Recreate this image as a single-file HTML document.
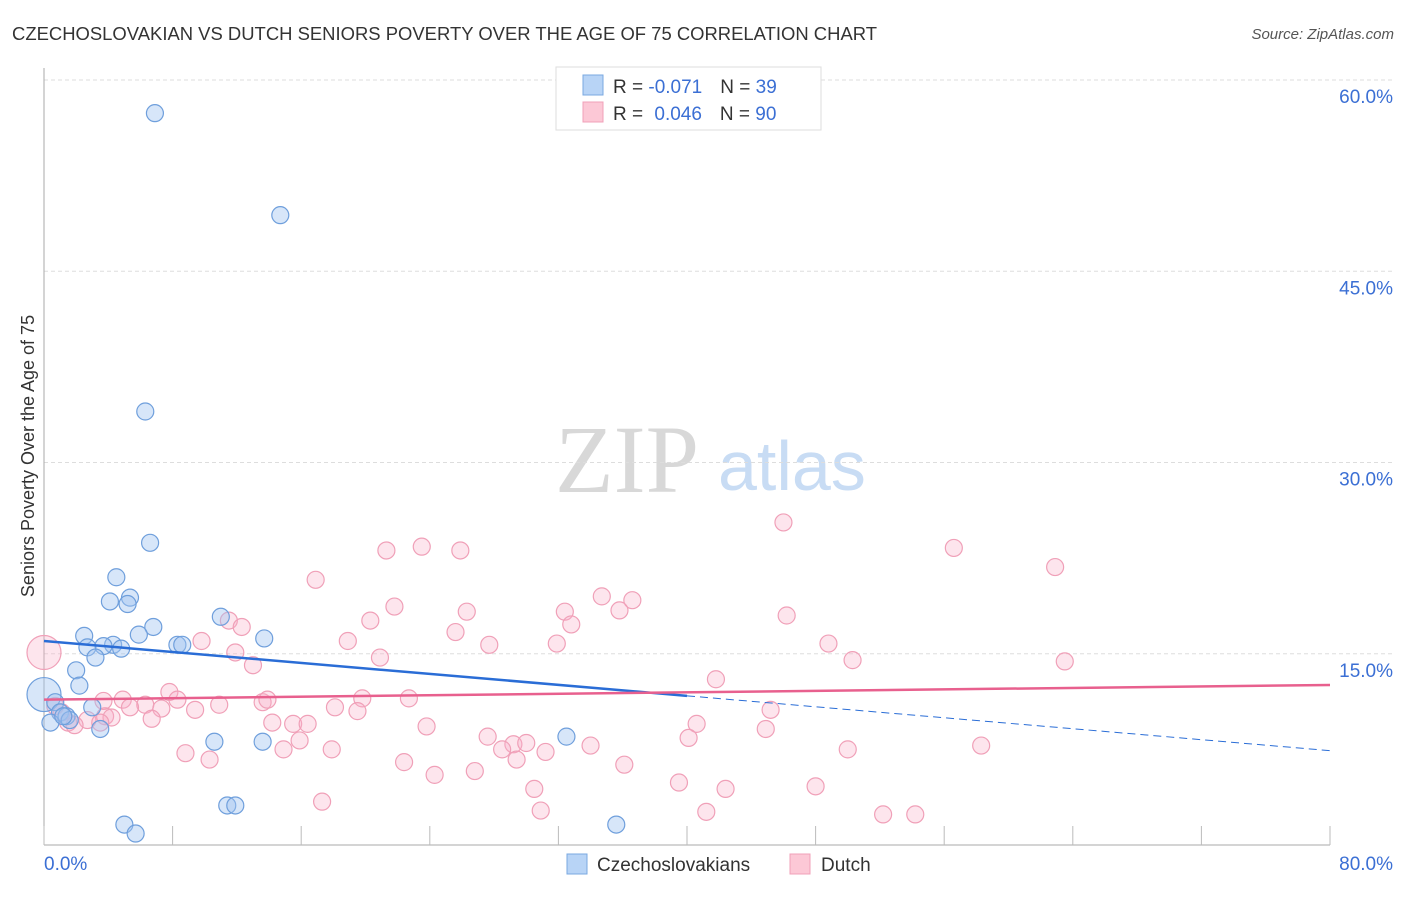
<!DOCTYPE html>
<html><head><meta charset="utf-8"><style>
body{margin:0;background:#fff;font-family:"Liberation Sans",sans-serif;}
svg text{font-family:"Liberation Sans",sans-serif;}
</style></head><body>
<svg width="1406" height="892" viewBox="0 0 1406 892" xmlns="http://www.w3.org/2000/svg">
<text x="12" y="40" font-size="18" fill="#333" textLength="865" lengthAdjust="spacingAndGlyphs">CZECHOSLOVAKIAN VS DUTCH SENIORS POVERTY OVER THE AGE OF 75 CORRELATION CHART</text>
<text x="1394" y="39" font-size="15" fill="#555" font-style="italic" text-anchor="end">Source: ZipAtlas.com</text>
<text x="0" y="0" font-size="18" fill="#333" text-anchor="middle" transform="translate(34,456) rotate(-90)">Seniors Poverty Over the Age of 75</text>
<g>
<text x="555" y="492" font-size="96" fill="#d8d8d8" font-family="Liberation Serif, serif" style="font-family:'Liberation Serif',serif">ZIP</text>
<text x="718" y="490" font-size="70" fill="#c8dcf4">atlas</text>
</g>
<g id="grid"></g>
<g id="axes"></g>
<g id="pts"></g>
<g id="trends"></g>
<g>
<rect x="556" y="67" width="265" height="63" fill="#fff" stroke="#ddd"/>
<rect x="583" y="75" width="20" height="20" fill="#b8d4f6" stroke="#7aa8e0"/>
<text x="613" y="93" font-size="19" fill="#333">R = <tspan fill="#3b6fd4">-0.071</tspan><tspan dx="18">N = </tspan><tspan fill="#3b6fd4">39</tspan></text>
<rect x="583" y="102" width="20" height="20" fill="#fcc8d6" stroke="#f0a0b8"/>
<text x="613" y="120" font-size="19" fill="#333">R = <tspan fill="#3b6fd4" dx="6">0.046</tspan><tspan dx="18">N = </tspan><tspan fill="#3b6fd4">90</tspan></text>
</g>
<g>
<rect x="567" y="854" width="20" height="20" fill="#b8d4f6" stroke="#7aa8e0"/>
<text x="597" y="871" font-size="19" fill="#333">Czechoslovakians</text>
<rect x="790" y="854" width="20" height="20" fill="#fcc8d6" stroke="#f0a0b8"/>
<text x="821" y="871" font-size="19" fill="#333">Dutch</text>
</g>
</svg>
<script>
const yTicks=[15,30,45,60];
const yTickLabels=["15.0%","30.0%","45.0%","60.0%"];
const xTicks=[0,8,16,24,32,40,48,56,64,72,80];
const xEndLabels=["0.0%","80.0%"];
const czX=[6.9,14.7,6.3,6.6,4.5,4.1,5.35,5.2,6.8,2.5,5.9,4.3,3.7,2.7,4.8,3.2,8.3,8.6,13.7,11.0,2.0,2.2,0.0,0.7,1.0,1.4,3.0,1.6,0.4,3.5,10.6,13.6,11.4,11.9,5.0,5.7,35.6,32.5,1.2];
const czY=[57.4,49.4,34.0,23.7,21.0,19.1,19.4,18.9,17.1,16.4,16.5,15.7,15.6,15.5,15.4,14.7,15.7,15.7,16.2,17.9,13.7,12.5,11.8,11.2,10.4,10.1,10.8,9.8,9.6,9.1,8.1,8.1,3.1,3.1,1.6,0.9,1.6,8.5,10.1];
const czSize=[1,1,1,1,1,1,1,1,1,1,1,1,1,1,1,1,1,1,1,1,1,1,2,1,1,1,1,1,1,1,1,1,1,1,1,1,1,1,1];
const duX=[0,46.0,56.6,62.9,21.3,23.5,25.9,16.9,21.8,26.3,32.4,34.7,36.6,35.8,32.8,46.2,11.5,12.3,20.3,9.8,18.9,25.6,27.7,31.9,48.8,11.9,13.0,20.9,50.3,63.5,41.8,7.8,4.9,6.3,5.35,7.3,8.3,10.9,13.6,13.9,18.1,19.8,22.7,19.5,9.4,3.8,4.2,2.7,1.5,1.9,6.7,14.2,15.5,16.4,23.8,40.6,45.2,44.9,27.6,15.9,29.2,30.0,28.5,31.2,34.0,40.1,8.8,14.9,17.9,10.3,22.4,29.4,36.1,50.0,58.3,24.3,26.8,30.5,39.5,42.4,48.0,17.3,30.9,41.2,52.2,54.2,3.7,0.7,1.1,3.5];
const duY=[15.1,25.3,23.3,21.8,23.1,23.4,23.1,20.8,18.7,18.3,18.3,19.5,19.2,18.4,17.3,18.0,17.6,17.1,17.6,16.0,16.0,16.7,15.7,15.8,15.8,15.1,14.1,14.7,14.5,14.4,13.0,12.0,11.4,11.0,10.8,10.7,11.4,11.0,11.2,11.4,10.8,11.5,11.5,10.5,10.6,10.1,10.0,9.8,9.6,9.4,9.9,9.6,9.5,9.5,9.3,9.5,10.6,9.1,8.5,8.2,7.9,8.0,7.5,7.3,7.8,8.4,7.2,7.5,7.5,6.7,6.5,6.7,6.3,7.5,7.8,5.5,5.8,4.4,4.9,4.4,4.6,3.4,2.7,2.6,2.4,2.4,11.3,10.9,10.4,9.6];
const czTrend=[16.0,7.4];
const czSolidEnd=40;
const duTrend=[11.4,12.55];
const NS="http://www.w3.org/2000/svg";
const X=v=>44+v*16.075, Y=v=>845-v*12.75;
function mk(t,a,p){const e=document.createElementNS(NS,t);for(const k in a)e.setAttribute(k,a[k]);document.getElementById(p).appendChild(e);return e;}
yTicks.forEach((t,i)=>{
 const l=mk('line',{x1:44,x2:1394,y1:Y(t),y2:Y(t),stroke:'#ddd','stroke-dasharray':'4,3'},'grid');
 
 
 const tx=mk('text',{x:1393,y:Y(t)+23,'font-size':19,fill:'#3b6fd4','text-anchor':'end'},'grid');tx.textContent=yTickLabels[i];
 
 
});
const ax=mk('line',{x1:44,x2:44,y1:68,y2:845,stroke:'#aaa'},'axes');


const bx=mk('line',{x1:44,x2:1330,y1:845,y2:845,stroke:'#aaa'},'axes');


xTicks.forEach(t=>{const l=mk('line',{x1:X(t),x2:X(t),y1:826,y2:845,stroke:'#bbb'},'axes');
 
 });
const x0=mk('text',{x:44,y:870,'font-size':19,fill:'#3b6fd4'},'axes');x0.textContent=xEndLabels[0];


const x1=mk('text',{x:1393,y:870,'font-size':19,fill:'#3b6fd4','text-anchor':'end'},'axes');x1.textContent=xEndLabels[1];


duX.forEach((v,i)=>{const c=mk('circle',{cx:X(v),cy:Y(duY[i]),r:i==0?17:8.5,fill:'rgba(248,175,198,0.32)',stroke:'#f0a0b8','stroke-width':1.2},'pts');
 
 });
czX.forEach((v,i)=>{const c=mk('circle',{cx:X(v),cy:Y(czY[i]),r:czSize[i]==2?17:8.5,fill:'rgba(160,196,240,0.42)',stroke:'#6f9fdc','stroke-width':1.2},'pts');
 
 });
const czAt=x=>czTrend[0]+(czTrend[1]-czTrend[0])*x/80;
const t1=mk('line',{x1:X(0),y1:Y(czTrend[0]),x2:X(czSolidEnd),y2:Y(czAt(czSolidEnd)),stroke:'#2a6dd6','stroke-width':2.5},'trends');


const t2=mk('line',{x1:X(czSolidEnd),y1:Y(czAt(czSolidEnd)),x2:X(80),y2:Y(czTrend[1]),stroke:'#2a6dd6','stroke-width':1,'stroke-dasharray':'8,5'},'trends');


const t3=mk('line',{x1:X(0),y1:Y(duTrend[0]),x2:X(80),y2:Y(duTrend[1]),stroke:'#e8608e','stroke-width':2.5},'trends');


</script>
</body></html>
